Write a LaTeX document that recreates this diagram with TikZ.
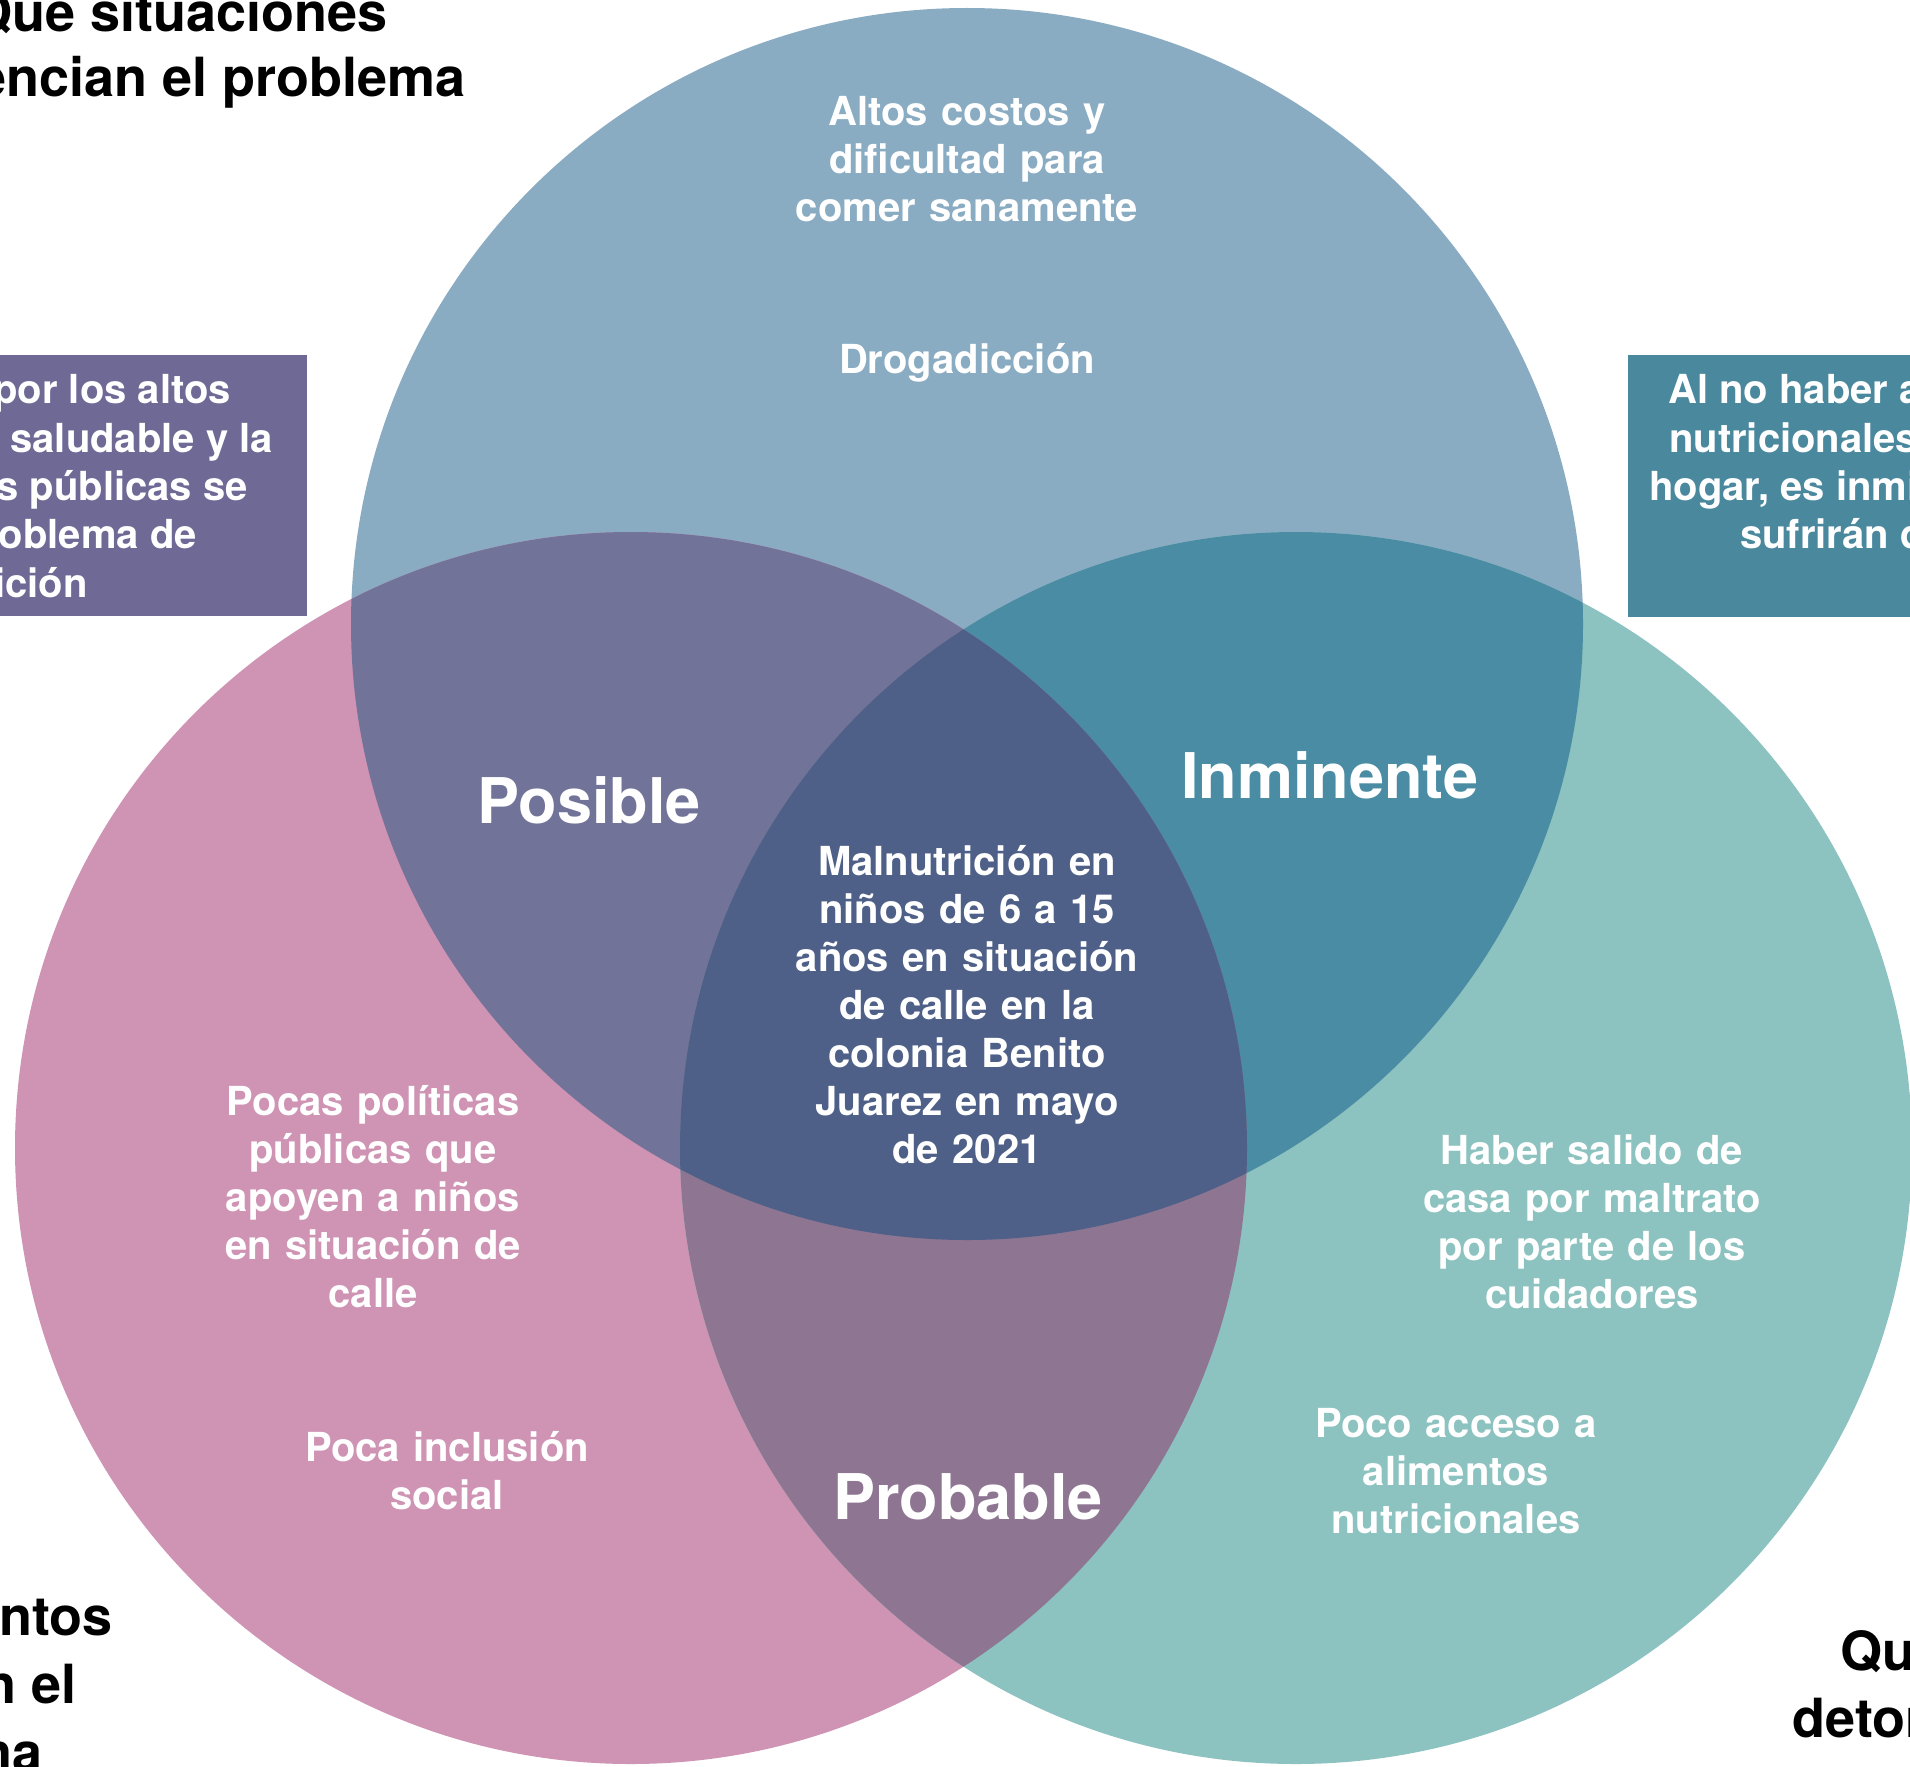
\documentclass[tikz,border=0pt]{standalone}
\usepackage{fontspec}
\setmainfont{TeX Gyre Heros}
\definecolor{cTop}{HTML}{8AACC3}
\definecolor{cLeft}{HTML}{CF93B4}
\definecolor{cRight}{HTML}{8CC2BF}
\definecolor{cTL}{HTML}{717399}
\definecolor{cTR}{HTML}{4A8CA3}
\definecolor{cLR}{HTML}{8E7592}
\definecolor{cMid}{HTML}{4E6088}
\definecolor{cBoxL}{HTML}{6F6996}
\definecolor{cBoxR}{HTML}{4A889E}
\begin{document}
\begin{tikzpicture}[x=1pt,y=-1pt,
  body/.style={text=white, font=\bfseries\fontsize{40}{48}\selectfont, align=center, text width=520pt, inner sep=0pt, anchor=base},
  bigword/.style={text=white, font=\bfseries\fontsize{63}{70}\selectfont, inner sep=0pt, anchor=base},
  boxline/.style={text=white, font=\bfseries\fontsize{40}{48}\selectfont, inner sep=0pt},
  headline/.style={text=black, font=\bfseries\fontsize{54}{67}\selectfont, inner sep=0pt}]
\useasboundingbox (0,0) rectangle (1910,1766);
\clip (0,0) rectangle (1910,1766);
\fill[white] (0,0) rectangle (1910,1766);

\coordinate (cT) at (967,624);
\coordinate (cL) at (631,1148);
\coordinate (cR) at (1296,1148);

% base circles
\fill[cTop] (cT) circle[radius=616pt];
\fill[cLeft] (cL) circle[radius=616pt];
\fill[cRight] (cR) circle[radius=616pt];
% pairwise overlaps
\begin{scope}
  \clip (cT) circle[radius=616pt];
  \fill[cTL] (cL) circle[radius=616pt];
  \fill[cTR] (cR) circle[radius=616pt];
\end{scope}
\begin{scope}
  \clip (cL) circle[radius=616pt];
  \fill[cLR] (cR) circle[radius=616pt];
\end{scope}
% triple overlap
\begin{scope}
  \clip (cT) circle[radius=616pt];
  \clip (cL) circle[radius=616pt];
  \fill[cMid] (cR) circle[radius=616pt];
\end{scope}

% side boxes
\fill[cBoxL] (0,355) rectangle (307,616);
\fill[cBoxR] (1628,355) rectangle (1910,617);

% texts in circles
\node[body] (costos) at (967,125) {Altos costos y\\dificultad para\\comer sanamente};
\node[body] (droga) at (967,373) {Drogadicción};
\node[body] (centro) at (967,875) {Malnutrición en\\niños de 6 a 15\\años en situación\\de calle en la\\colonia Benito\\Juarez en mayo\\de 2021};
\node[body] (pocas) at (373,1115) {Pocas políticas\\públicas que\\apoyen a niños\\en situación de\\calle};
\node[body] (inclusion) at (447,1461) {Poca inclusión\\social};
\node[body] (salido) at (1592,1164) {Haber salido de\\casa por maltrato\\por parte de los\\cuidadores};
\node[body] (acceso) at (1456,1437) {Poco acceso a\\alimentos\\nutricionales};

\node[bigword] (posible) at (589,823) {Posible};
\node[bigword] (inminente) at (1330,798) {Inminente};
\node[bigword] (probable) at (968,1519) {Probable};

% left box text (cut at the left edge)
\node[boxline, anchor=base east] (bl1) at (231,403) {por los altos};
\node[boxline, anchor=base east] (bl2) at (273,452) {a saludable y la};
\node[boxline, anchor=base east] (bl3) at (248,500) {s públicas se};
\node[boxline, anchor=base east] (bl4) at (197,548) {oblema de};
\node[boxline, anchor=base east] (bl5) at (88,597) {ición};

% right box text (cut at the right edge)
\node[boxline, anchor=base west] (br1) at (1668,403) {Al no haber a};
\node[boxline, anchor=base west] (br2) at (1669,452) {nutricionales};
\node[boxline, anchor=base west] (br3) at (1649,500) {hogar, es inmi};
\node[boxline, anchor=base west] (br4) at (1740,548) {sufrirán d};

% headings (cut by the page edges)
\node[headline, anchor=base east] (h1a) at (388,32) {Qué situaciones};
\node[headline, anchor=base east] (h1b) at (466,97) {potencian el problema};
\node[headline, anchor=base east] (h2a) at (113,1635) {ntos};
\node[headline, anchor=base east] (h2b) at (77,1703) {n el};
\node[headline, anchor=base east] (h2c) at (43,1771) {na};
\node[headline, anchor=base west] (h3a) at (1840,1670) {Qu};
\node[headline, anchor=base west] (h3b) at (1792,1737) {deton};
\end{tikzpicture}
\end{document}
